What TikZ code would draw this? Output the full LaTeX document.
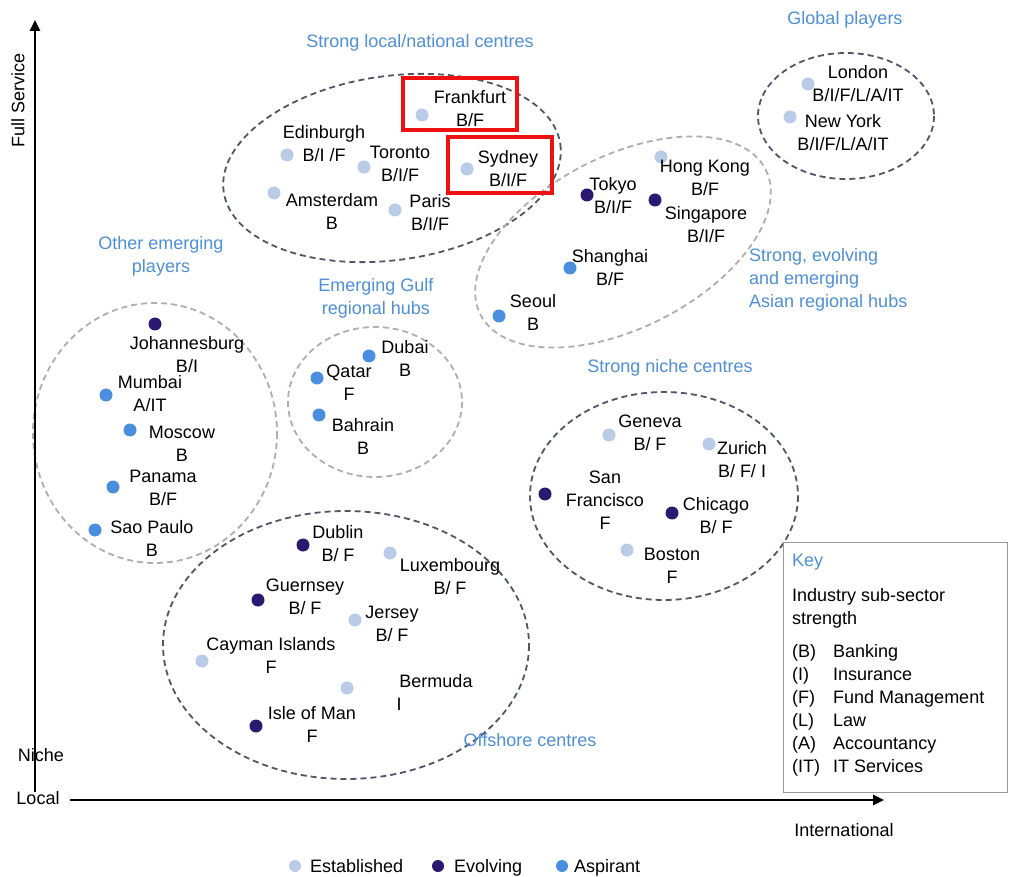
\documentclass[tikz,border=0pt]{standalone}
\usepackage{fontspec}
\setmainfont{Liberation Sans}
\usetikzlibrary{arrows.meta}
\definecolor{est}{HTML}{B9CBE6}
\definecolor{evo}{HTML}{2B1870}
\definecolor{asp}{HTML}{4A8EE0}
\definecolor{grp}{HTML}{4F8FD6}
\definecolor{dk}{HTML}{4F5666}
\definecolor{lt}{HTML}{AEAEAE}
\definecolor{hl}{HTML}{EE1111}
\begin{document}
\begin{tikzpicture}[x=1pt,y=-1pt,
  font=\fontsize{18}{23}\selectfont,
  dot/.style={circle,inner sep=0pt,minimum size=13pt},
  estd/.style={dot,fill=est},
  evod/.style={dot,fill=evo},
  aspd/.style={dot,fill=asp},
  lbl/.style={align=center,inner sep=0pt,text=black},
  grplbl/.style={align=center,inner sep=0pt,text=grp},
  dkell/.style={draw=dk,line width=1.8pt,dash pattern=on 6pt off 4pt},
  ltell/.style={draw=lt,line width=1.8pt,dash pattern=on 6pt off 4pt},
  hlbox/.style={draw=hl,line width=3.5pt},
  axis/.style={line width=2.6pt,-{Triangle[length=11pt,width=10pt]}}]
\useasboundingbox (0,0) rectangle (1010,877);
\fill[white] (0,0) rectangle (1010,877);

% ellipses
\draw[dkell,rotate around={8:(392,168)}] (392,168) ellipse [x radius=170, y radius=92];
\draw[dkell] (846,116) ellipse [x radius=88, y radius=63];
\draw[ltell,rotate around={27:(623,242)}] (623,242) ellipse [x radius=160, y radius=86];
\draw[ltell] (155,433) ellipse [x radius=122, y radius=130];
\draw[ltell] (375,402) ellipse [x radius=87, y radius=75];
\draw[dkell] (664,496) ellipse [x radius=134, y radius=104];
\draw[dkell] (346,645) ellipse [x radius=183, y radius=134];

% axes
\coordinate (yb) at (35,792);
\coordinate (yt) at (35,20);
\coordinate (xl) at (70,800);
\coordinate (xr) at (884,800);
\draw[axis] (yb) -- (yt);
\draw[axis] (xl) -- (xr);
\node[lbl,rotate=90] (full) at (18,100) {Full Service};
\node[lbl] (niche) at (41,755) {Niche};
\node[lbl] (local) at (38,798) {Local};
\node[lbl] (intl) at (844,830) {International};

% group labels
\node[grplbl] (g1) at (420,43) {Strong local/national centres};
\node[grplbl] (g2) at (845,20) {Global players};
\node[grplbl,align=left,anchor=west] (g3) at (749,280) {Strong, evolving\\and emerging\\Asian regional hubs};
\node[grplbl] (g4) at (161,256) {Other emerging\\players};
\node[grplbl] (g5) at (376,298) {Emerging Gulf\\regional hubs};
\node[grplbl] (g6) at (670,368) {Strong niche centres};
\node[grplbl] (g7) at (530,740) {Offshore centres};

% Strong local / national
\node[estd] (frd) at (422,115) {};
\node[lbl] (frl) at (470,109) {Frankfurt\\B/F};
\node[estd] (edd) at (287,155) {};
\node[lbl] (edl) at (324,144) {Edinburgh\\B/I /F};
\node[estd] (tod) at (364,167) {};
\node[lbl] (tol) at (400,164) {Toronto\\B/I/F};
\node[estd] (syd) at (467,169) {};
\node[lbl] (syl) at (508,169) {Sydney\\B/I/F};
\node[estd] (amd) at (274,193) {};
\node[lbl] (aml) at (332,211) {Amsterdam\\B};
\node[estd] (pad) at (395,210) {};
\node[lbl] (pal) at (430,213) {Paris\\B/I/F};
\node[hlbox,minimum width=114pt,minimum height=52pt] (hl1) at (460,104) {};
\node[hlbox,minimum width=104pt,minimum height=56pt] (hl2) at (500,165) {};

% Global
\node[estd] (lod) at (808,84) {};
\node[lbl] (lol) at (858,84) {London\\B/I/F/L/A/IT};
\node[estd] (nyd) at (790,117) {};
\node[lbl] (nyl) at (843,133) {New York\\B/I/F/L/A/IT};

% Asian
\node[estd] (hkd) at (661,157) {};
\node[lbl] (hkl) at (705,178) {Hong Kong\\B/F};
\node[evod] (tkd) at (587,195) {};
\node[lbl] (tkl) at (613,196) {Tokyo\\B/I/F};
\node[evod] (sgd) at (655,200) {};
\node[lbl] (sgl) at (706,225) {Singapore\\B/I/F};
\node[aspd] (shd) at (570,268) {};
\node[lbl] (shl) at (610,268) {Shanghai\\B/F};
\node[aspd] (sed) at (499,316) {};
\node[lbl] (sel) at (533,312) {Seoul\\B};

% Other emerging
\node[evod] (jod) at (155,324) {};
\node[lbl] (jol) at (187,355) {Johannesburg\\B/I};
\node[aspd] (mud) at (106,395) {};
\node[lbl] (mul) at (150,394) {Mumbai\\A/IT};
\node[aspd] (mod) at (130,430) {};
\node[lbl] (mol) at (182,444) {Moscow\\B};
\node[aspd] (pnd) at (113,487) {};
\node[lbl] (pnl) at (163,488) {Panama\\B/F};
\node[aspd] (spd) at (95,530) {};
\node[lbl] (spl) at (152,538) {Sao Paulo\\B};

% Gulf
\node[aspd] (dud) at (369,356) {};
\node[lbl] (dul) at (405,358) {Dubai\\B};
\node[aspd] (qad) at (317,378) {};
\node[lbl] (qal) at (349,383) {Qatar\\F};
\node[aspd] (bad) at (319,415) {};
\node[lbl] (bal) at (363,436) {Bahrain\\B};

% Strong niche
\node[estd] (ged) at (609,435) {};
\node[lbl] (gel) at (650,433) {Geneva\\B/ F};
\node[estd] (zud) at (709,444) {};
\node[lbl] (zul) at (742,460) {Zurich\\B/ F/ I};
\node[evod] (sfd) at (545,494) {};
\node[lbl] (sfl) at (605,500) {San\\Francisco\\F};
\node[evod] (chd) at (672,513) {};
\node[lbl] (chl) at (716,516) {Chicago\\B/ F};
\node[estd] (bod) at (627,550) {};
\node[lbl] (bol) at (672,566) {Boston\\F};

% Offshore
\node[evod] (dbd) at (303,545) {};
\node[lbl] (dbl) at (338,544) {Dublin\\B/ F};
\node[estd] (lxd) at (390,553) {};
\node[lbl] (lxl) at (450,577) {Luxembourg\\B/ F};
\node[evod] (gud) at (258,600) {};
\node[lbl] (gul) at (305,597) {Guernsey\\B/ F};
\node[estd] (jed) at (355,620) {};
\node[lbl] (jel) at (392,624) {Jersey\\B/ F};
\node[estd] (cad) at (202,661) {};
\node[lbl] (cal) at (271,655) {Cayman Islands\\F};
\node[estd] (bmd) at (347,688) {};
\node[lbl] (bml) at (399,692) {\hspace*{74pt}Bermuda\\I};
\node[evod] (imd) at (256,726) {};
\node[lbl] (iml) at (312,724) {Isle of Man\\F};

% Key
\draw[draw=gray!80,line width=1pt] (783,542) rectangle (1007,792);
\node[grplbl,anchor=west] (key) at (792,562) {Key};
\node[lbl,align=left,anchor=west] (ind) at (792,608) {Industry sub-sector\\strength};
\node[lbl,align=left,anchor=north west] (kc1) at (792,644) {(B)\\(I)\\(F)\\(L)\\(A)\\(IT)};
\node[lbl,align=left,anchor=north west] (kc2) at (833,644) {Banking\\Insurance\\Fund Management\\Law\\Accountancy\\IT Services};

% Legend
\node[estd,minimum size=12pt] (le1) at (295,866) {};
\node[lbl,anchor=base west] (lt1) at (310,872) {Established};
\node[evod,minimum size=12pt] (le2) at (438,866) {};
\node[lbl,anchor=base west] (lt2) at (454,872) {Evolving};
\node[aspd,minimum size=12pt] (le3) at (562,866) {};
\node[lbl,anchor=base west] (lt3) at (574,872) {Aspirant};
\end{tikzpicture}
\end{document}
